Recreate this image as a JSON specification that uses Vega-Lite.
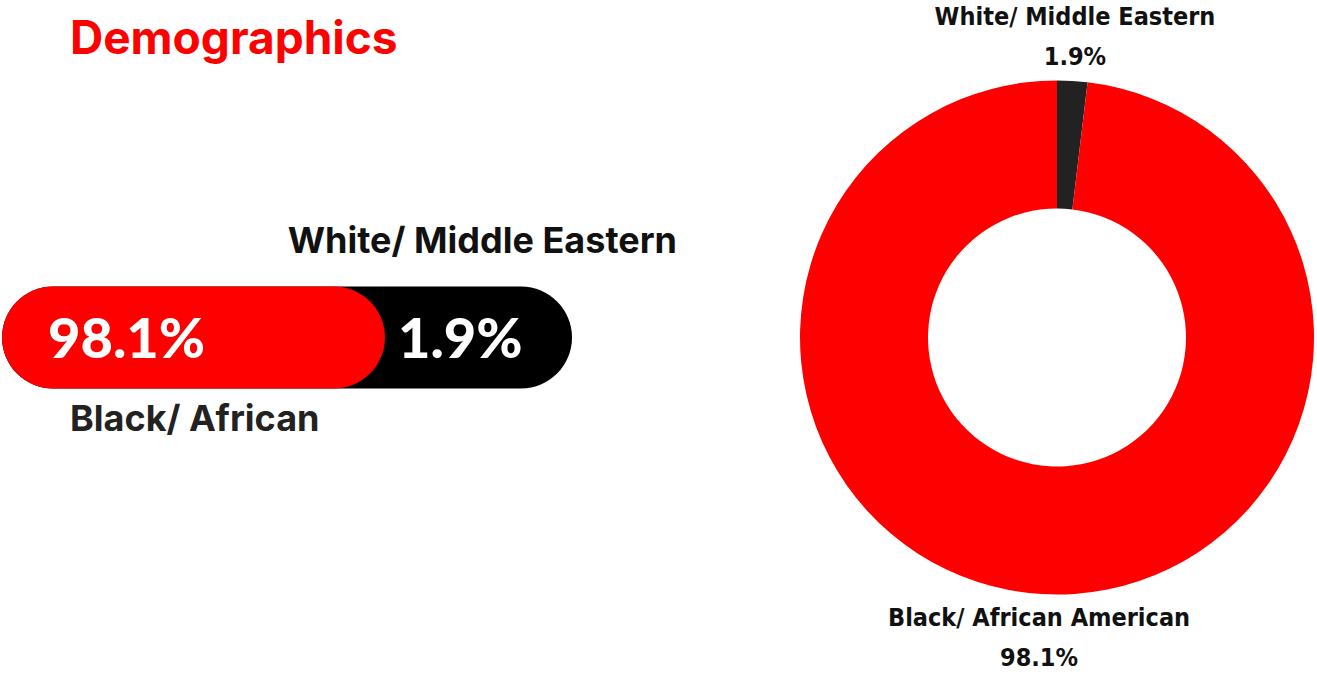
{
  "$schema": "https://vega.github.io/schema/vega-lite/v6.json",
  "padding": 0,
  "spacing": 0,
  "background": "white",
  "config": {"view": {"stroke": null}},
  "data": {"values": [
    {"group": "White/ Middle Eastern", "name": "White/ Middle Eastern", "value": 1.9, "label": "1.9%"},
    {"group": "Black/ African", "name": "Black/ African American", "value": 98.1, "label": "98.1%"}
  ]},
  "resolve": {"scale": {"color": "independent"}},
  "hconcat": [
    {
      "width": 797,
      "height": 675,
      "title": {"text": "Demographics", "anchor": "start", "frame": "group", "orient": "top", "offset": -100, "dx": 70, "baseline": "alphabetic", "font": "Inter", "fontSize": 46, "fontWeight": 700, "color": "#ff0000"},
      "transform": [
        {"stack": "value", "groupby": [], "sort": [{"field": "value", "order": "descending"}], "as": ["start", "end"]}
      ],
      "layer": [
        {
          "mark": {"type": "bar", "height": 102, "cornerRadius": 51},
          "encoding": {
            "x": {"field": "end", "type": "quantitative", "stack": null, "scale": {"domain": [94.21, 100], "range": [2, 572], "clamp": true, "nice": false, "zero": false}, "axis": null},
            "color": {"field": "group", "type": "nominal", "scale": {"domain": ["Black/ African", "White/ Middle Eastern"], "range": ["#ff0000", "#000000"]}, "legend": null}
          }
        },
        {
          "transform": [{"filter": {"field": "group", "equal": "Black/ African"}}],
          "mark": {"type": "text", "align": "left", "baseline": "middle", "dx": 46, "dy": 3, "font": "Lato", "fontSize": 56, "fontWeight": 900, "color": "#ffffff"},
          "encoding": {
            "x": {"field": "start", "type": "quantitative", "axis": null},
            "text": {"field": "label"}
          }
        },
        {
          "transform": [{"filter": {"field": "group", "equal": "White/ Middle Eastern"}}],
          "mark": {"type": "text", "align": "left", "baseline": "middle", "dx": 13, "dy": 3, "font": "Lato", "fontSize": 56, "fontWeight": 900, "color": "#ffffff"},
          "encoding": {
            "x": {"field": "start", "type": "quantitative", "axis": null},
            "text": {"field": "label"}
          }
        },
        {
          "transform": [{"filter": {"field": "group", "equal": "Black/ African"}}],
          "mark": {"type": "text", "align": "left", "baseline": "middle", "dx": 68, "dy": 82, "font": "Inter", "fontSize": 36, "fontWeight": 700, "color": "#222222"},
          "encoding": {
            "x": {"field": "start", "type": "quantitative", "axis": null},
            "text": {"field": "group"}
          }
        },
        {
          "transform": [{"filter": {"field": "group", "equal": "White/ Middle Eastern"}}],
          "mark": {"type": "text", "align": "right", "baseline": "middle", "dx": 105, "dy": -96, "font": "Inter", "fontSize": 36, "fontWeight": 700, "color": "#111111"},
          "encoding": {
            "x": {"field": "end", "type": "quantitative", "axis": null},
            "text": {"field": "group"}
          }
        }
      ]
    },
    {
      "width": 520,
      "height": 675,
      "encoding": {
        "theta": {"field": "value", "type": "quantitative", "stack": true},
        "order": {"field": "value", "sort": "ascending"}
      },
      "layer": [
        {
          "mark": {"type": "arc", "radius": 257, "innerRadius": 129},
          "encoding": {
            "color": {"field": "group", "type": "nominal", "scale": {"domain": ["Black/ African", "White/ Middle Eastern"], "range": ["#ff0000", "#222222"]}, "legend": null}
          }
        },
        {
          "mark": {"type": "text", "radius": 301, "dy": -20, "baseline": "middle", "font": "DejaVu Sans Condensed", "fontSize": 25, "fontWeight": "bold", "color": "#111111"},
          "encoding": {"text": {"field": "name"}}
        },
        {
          "mark": {"type": "text", "radius": 301, "dy": 20, "baseline": "middle", "font": "DejaVu Sans Condensed", "fontSize": 25, "fontWeight": "bold", "color": "#111111"},
          "encoding": {"text": {"field": "label"}}
        }
      ]
    }
  ]
}
